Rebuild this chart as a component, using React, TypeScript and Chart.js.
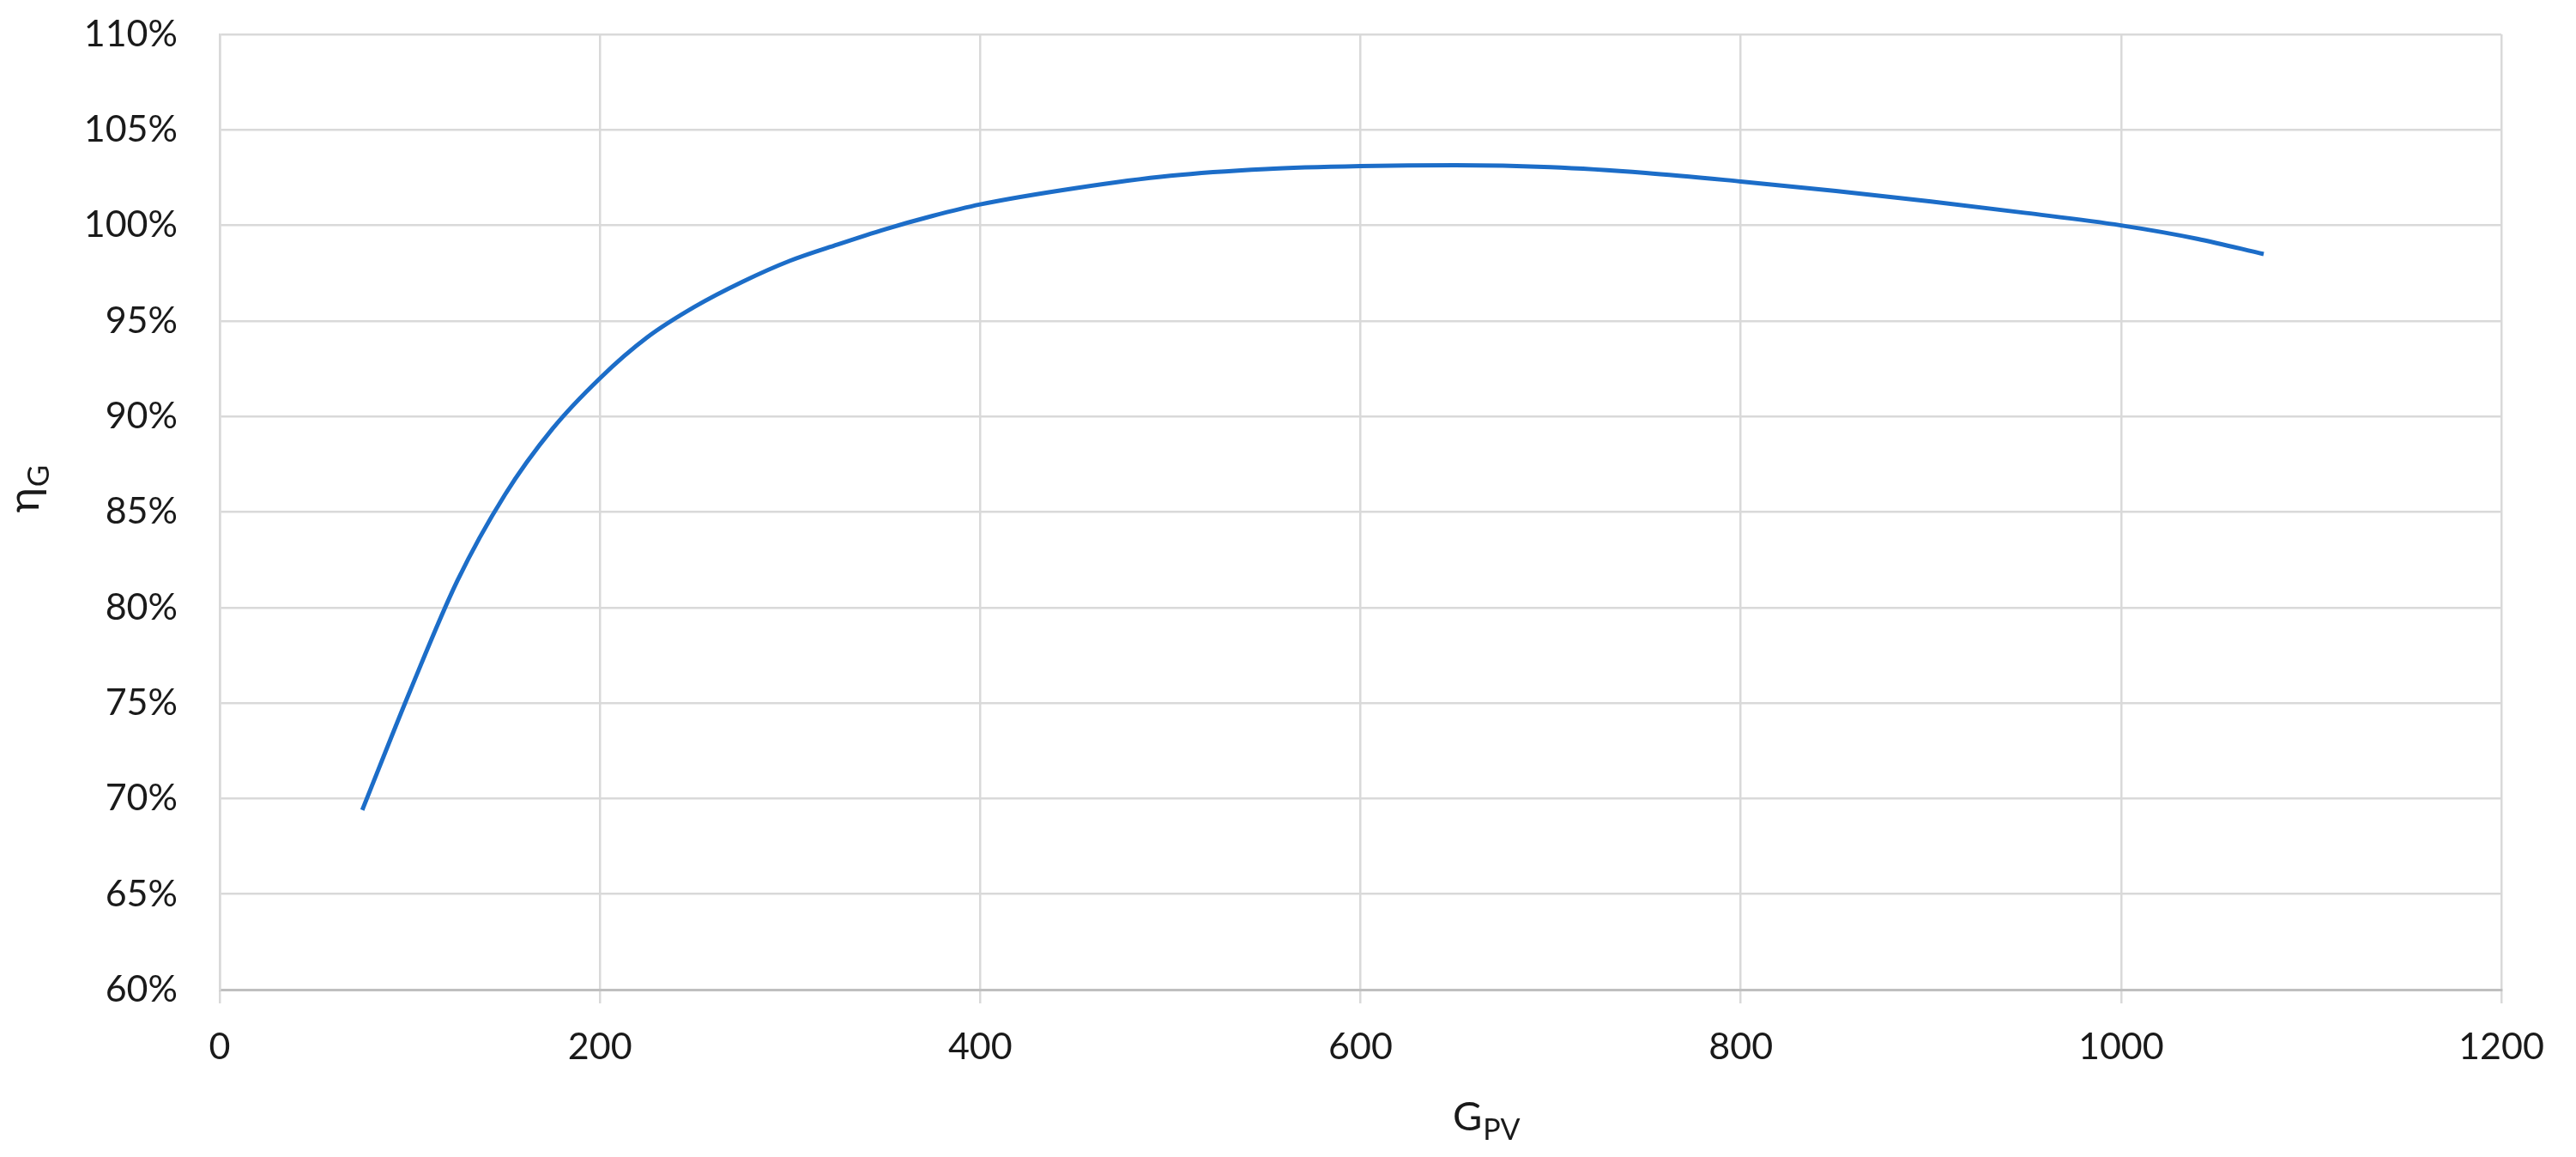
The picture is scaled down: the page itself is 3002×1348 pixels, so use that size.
import { useEffect, useRef } from "react";
import { Chart, registerables } from "chart.js";
Chart.register(...registerables);

// irradiance G_PV and efficiency eta_G (%)
const gpv = [
  75, 100, 125, 150, 175, 200, 225, 250, 275, 300, 325, 350, 375, 400, 450, 500,
  550, 600, 650, 700, 750, 800, 850, 900, 950, 1000, 1040, 1075,
];
const etaG = [
  69.4, 75.6, 81.4, 85.9, 89.35, 92.0, 94.15, 95.75, 97.05, 98.15, 99.0, 99.8,
  100.5, 101.1, 101.95, 102.6, 102.95, 103.1, 103.15, 103.05, 102.75, 102.3,
  101.8, 101.25, 100.65, 100.0, 99.3, 98.5,
];
const xTicks = [0, 200, 400, 600, 800, 1000, 1200];
const yTicks = [60, 65, 70, 75, 80, 85, 90, 95, 100, 105, 110];

const W = 3002;
const H = 1348;
const FONT = "Lato, 'Open Sans', 'DejaVu Sans', sans-serif";

// title with a subscript, optionally turned on its side
const drawSubTitle = (
  ctx: CanvasRenderingContext2D,
  main: string,
  sub: string,
  cx: number,
  cy: number,
  rotate: boolean,
  mainSize: number,
  subSize: number,
  subDrop: number
) => {
  ctx.save();
  ctx.translate(cx, cy);
  if (rotate) ctx.rotate(-Math.PI / 2);
  ctx.fillStyle = "#1a1a1a";
  ctx.textBaseline = "alphabetic";
  ctx.textAlign = "left";
  ctx.font = `${mainSize}px ${FONT}`;
  const mw = ctx.measureText(main).width;
  ctx.font = `${subSize}px ${FONT}`;
  const sw = ctx.measureText(sub).width;
  const x0 = -(mw + sw) / 2;
  ctx.font = `${mainSize}px ${FONT}`;
  ctx.fillText(main, x0, 0);
  ctx.font = `${subSize}px ${FONT}`;
  ctx.fillText(sub, x0 + mw + 1, subDrop);
  ctx.restore();
};

const titlesPlugin = {
  id: "subTitles",
  afterDraw: (chart: any) => {
    const { ctx, chartArea } = chart;
    const xc = chartArea.left + (chartArea.right - chartArea.left) * 0.555;
    drawSubTitle(ctx, "G", "PV", xc, 1317, false, 47, 34, 11);
    drawSubTitle(ctx, "η", "G", 45, 570, true, 50, 35, 12);
  },
};

const App = () => {
  const canvasRef = useRef<HTMLCanvasElement>(null);

  useEffect(() => {
    const chart = new Chart(canvasRef.current!, {
      type: "line",
      data: {
        datasets: [
          {
            data: gpv.map((g, i) => ({ x: g, y: etaG[i] })),
            borderColor: "#1c6dc8",
            borderWidth: 5,
            pointRadius: 0,
            cubicInterpolationMode: "monotone",
            fill: false,
          },
        ],
      },
      options: {
        responsive: false,
        animation: false,
        layout: { padding: { left: 0, right: 87, top: 40, bottom: 0 } },
        plugins: {
          legend: { display: false },
          tooltip: { enabled: false },
        },
        scales: {
          x: {
            type: "linear",
            min: 0,
            max: 1200,
            afterBuildTicks: (s: any) => {
              s.ticks = xTicks.map((v) => ({ value: v }));
            },
            afterFit: (s: any) => {
              s.height = 195;
            },
            grid: {
              color: "#d9d9d9",
              lineWidth: 2.5,
              tickLength: 16,
              drawTicks: true,
            },
            border: { color: "#bfbfbf", width: 3 },
            ticks: {
              color: "#1a1a1a",
              font: { family: FONT, size: 43 },
              padding: 25,
              maxRotation: 0,
              callback: (v: any) => String(v),
            },
          },
          y: {
            min: 60,
            max: 110,
            afterBuildTicks: (s: any) => {
              s.ticks = yTicks.map((v) => ({ value: v }));
            },
            afterFit: (s: any) => {
              s.width = 256;
            },
            grid: {
              color: "#d9d9d9",
              lineWidth: 2.5,
              drawTicks: true,
              tickLength: 49,
              tickColor: "rgba(0,0,0,0)",
            },
            border: { color: "#d9d9d9", width: 2.5 },
            ticks: {
              color: "#1a1a1a",
              font: { family: FONT, size: 43 },
              padding: 0,
              callback: (v: any) => `${v}%`,
            },
          },
        },
      },
      plugins: [titlesPlugin],
    });
    return () => chart.destroy();
  }, []);

  return (
    <div style={{ position: "absolute", left: 0, top: 0, width: W, height: H, background: "#fff" }}>
      <canvas ref={canvasRef} width={W} height={H} style={{ display: "block" }} />
    </div>
  );
};

export default App;
